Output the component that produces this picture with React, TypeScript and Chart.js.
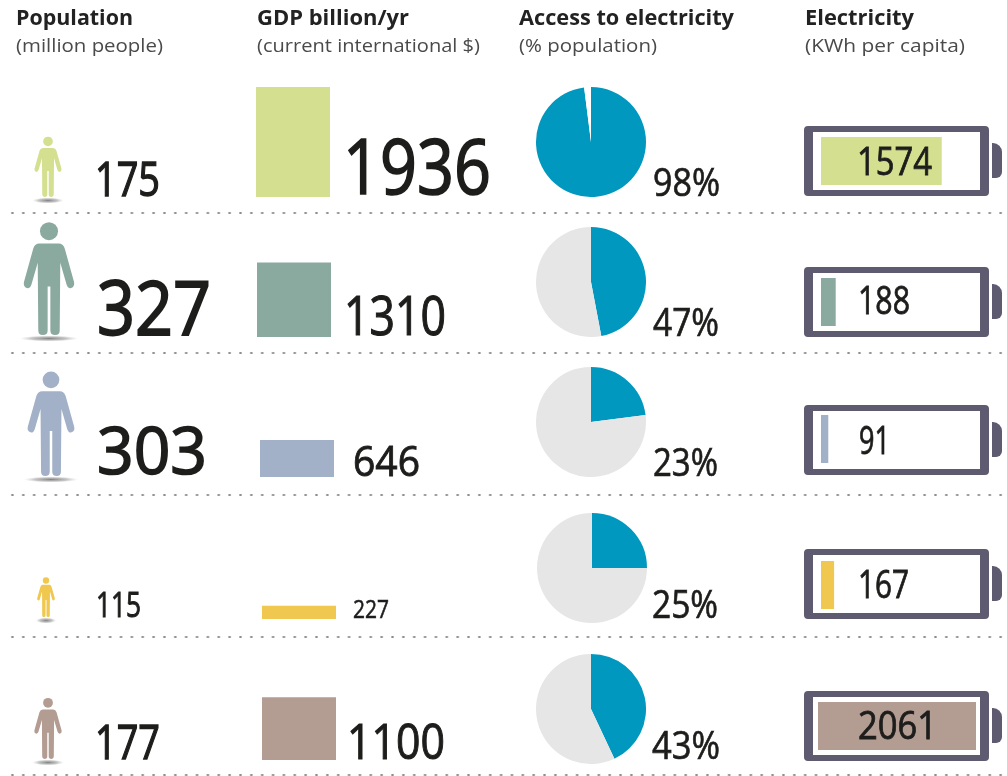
import React, { useEffect, useRef } from "react";
import { Chart, registerables } from "chart.js";

Chart.register(...registerables);

// ---- data ----
const population = [175, 327, 303, 115, 177];
const gdp = [1936, 1310, 646, 227, 1100];
const access = [98, 47, 23, 25, 43];
const electricity = [1574, 188, 91, 167, 2061];
const headers = [
  ["Population", "(million people)"],
  ["GDP billion/yr", "(current international $)"],
  ["Access to electricity", "(% population)"],
  ["Electricity", "(KWh per capita)"],
];

// ---- styles ----
const rowColors = ["#D4E08F", "#8BAA9F", "#A2B1C7", "#F0C850", "#B39C92"];
const pieBlue = "#0098BF";
const pieRest = ["#FFFFFF", "#E6E6E6", "#E6E6E6", "#E6E6E6", "#E6E6E6"];
const shellColor = "#5E5A70";
const inkColor = "#1D1D1B";

// ---- layout ----
const FONT = "'Open Sans', Lato, sans-serif";
const CAP = 0.714;
const separatorYs = [213, 353, 494.5, 636.5, 775];
const headerX = [16, 257, 519, 805];
const headerW = [117, 152, 215, 109];
const subW = [147, 223, 138, 160];
const personCx = [48, 48.7, 50.7, 46.3, 47.7];
const personFeet = [197, 335, 476, 617, 759];
const gdpLeft = [256, 257, 260, 262, 262];
const gdpBottom = [197, 337, 477, 619, 760];
const pieCx = [591, 590.5, 591, 592, 591];
const pieCy = [142, 282, 422, 568, 709];
const shellTop = [126, 267, 405, 549, 691];
const fillLeft = [821, 821, 821, 821, 818];
const fillTop = [137, 278, 415, 561, 702];
// x, baseline, width, digit height
const popText = [
  [95, 196, 65, 34],
  [97, 335, 114, 54],
  [97, 474, 110, 47],
  [96, 617, 45, 25],
  [95, 759, 65, 34],
];
const gdpText = [
  [343, 194, 148, 55],
  [344, 335, 102, 39],
  [353, 476, 67, 30],
  [353, 618, 36, 18],
  [347, 759, 98, 35],
];
const pctText = [
  [653, 196, 67, 27],
  [653, 336, 66, 27],
  [653, 476, 65, 27],
  [652, 618, 66, 27],
  [652, 759, 68, 27],
];
const kwhText = [
  [857, 175, 75, 27],
  [858, 314, 52, 27],
  [859, 454, 31, 27],
  [858, 598, 51, 27],
  [858, 739, 79, 27],
];

const PERSON_PLOT_H = 120;
const PERSON_PAD = 8;
const PERSON_PX_PER_UNIT = 0.345;
const GDP_H = 120;
const GDP_PX_PER_UNIT = 0.0567;
const FILL_W = 165;
const FILL_H = 48;
const KWH_PX_PER_UNIT = 0.0765;

const personPlugin = {
  id: "personGlyph",
  afterDatasetsDraw(chart: any) {
    const el = chart.getDatasetMeta(0).data[0];
    const { x, y, base } = el.getProps(["x", "y", "base"], true);
    const H = base - y;
    const ctx = chart.ctx;
    const color = chart.data.datasets[0].personColor;
    ctx.save();
    // ground shadow
    ctx.save();
    const rx = Math.max(H * 0.26, 10);
    ctx.translate(x, base + 3.5);
    ctx.scale(1, 3 / rx);
    const g = ctx.createRadialGradient(0, 0, 0, 0, 0, rx);
    g.addColorStop(0, "rgba(110,110,110,0.85)");
    g.addColorStop(0.6, "rgba(140,140,140,0.5)");
    g.addColorStop(1, "rgba(190,190,190,0)");
    ctx.fillStyle = g;
    ctx.beginPath();
    ctx.arc(0, 0, rx, 0, Math.PI * 2);
    ctx.fill();
    ctx.restore();

    ctx.translate(x, y);
    ctx.scale(H, H);
    ctx.fillStyle = color;
    // head
    ctx.beginPath();
    ctx.arc(0, 0.08, 0.08, 0, Math.PI * 2);
    ctx.fill();
    // body, one half at a time
    for (const s of [-1, 1]) {
      ctx.beginPath();
      ctx.moveTo(0, 0.19);
      ctx.lineTo(s * 0.085, 0.19);
      ctx.quadraticCurveTo(s * 0.125, 0.19, s * 0.14, 0.235);
      ctx.lineTo(s * 0.222, 0.53);
      ctx.quadraticCurveTo(s * 0.232, 0.575, s * 0.19, 0.585);
      ctx.quadraticCurveTo(s * 0.165, 0.585, s * 0.155, 0.55);
      ctx.lineTo(s * 0.1, 0.36);
      ctx.lineTo(s * 0.095, 0.96);
      ctx.quadraticCurveTo(s * 0.095, 1, s * 0.055, 1);
      ctx.quadraticCurveTo(s * 0.012, 1, s * 0.012, 0.96);
      ctx.lineTo(s * 0.012, 0.57);
      ctx.lineTo(0, 0.57);
      ctx.closePath();
      ctx.fill();
    }
    ctx.restore();
  },
};

const flatOptions = (extra: any = {}) => ({
  responsive: false,
  animation: false as const,
  events: [],
  layout: { padding: 0 },
  plugins: { legend: { display: false }, tooltip: { enabled: false } },
  ...extra,
});

function ChartCanvas({ config, left, top, width, height }: any) {
  const ref = useRef<HTMLCanvasElement>(null);
  useEffect(() => {
    const chart = new Chart(ref.current as HTMLCanvasElement, config());
    return () => chart.destroy();
  }, []);
  return (
    <canvas
      ref={ref}
      width={width}
      height={height}
      style={{ position: "absolute", left, top, width, height, display: "block" }}
    />
  );
}

function barConfig(value: number, color: string, max: number, horizontal: boolean, label: string) {
  const valueAxis = { display: false, min: 0, max };
  const catAxis = { display: false };
  return {
    type: "bar" as const,
    data: {
      labels: [label],
      datasets: [{ data: [value], backgroundColor: color, barPercentage: 1, categoryPercentage: 1, borderWidth: 0 }],
    },
    options: flatOptions({
      indexAxis: horizontal ? "y" : "x",
      scales: horizontal ? { x: valueAxis, y: catAxis } : { x: catAxis, y: valueAxis },
    }),
  };
}

function personConfig(value: number, color: string) {
  return {
    type: "bar" as const,
    data: {
      labels: ["Population"],
      datasets: [
        {
          data: [value],
          backgroundColor: "rgba(0,0,0,0)",
          barPercentage: 1,
          categoryPercentage: 1,
          personColor: color,
        },
      ],
    },
    options: flatOptions({
      layout: { padding: { bottom: PERSON_PAD } },
      scales: {
        x: { display: false },
        y: { display: false, min: 0, max: PERSON_PLOT_H / PERSON_PX_PER_UNIT },
      },
    }),
    plugins: [personPlugin],
  };
}

function pieConfig(value: number, rest: string) {
  return {
    type: "pie" as const,
    data: {
      labels: ["With access", "Without access"],
      datasets: [{ data: [value, 100 - value], backgroundColor: [pieBlue, rest], borderWidth: 0 }],
    },
    options: flatOptions(),
  };
}

function Label({ spec, text, weight = 400, stroke = 0.02 }: any) {
  const [x, y, w, h] = spec;
  return (
    <text
      x={x}
      y={y}
      fontFamily={FONT}
      fontWeight={weight}
      fontSize={h / CAP}
      fill={inkColor}
      stroke={inkColor}
      strokeWidth={h * stroke}
      textLength={w}
      lengthAdjust="spacingAndGlyphs"
    >
      {text}
    </text>
  );
}

export default function App() {
  return (
    <div style={{ position: "absolute", left: 0, top: 0, width: 1007, height: 776, overflow: "hidden", background: "#fff" }}>
      {separatorYs.map((y, i) => (
        <div
          key={i}
          style={{
            position: "absolute",
            left: 7.3,
            top: y - 2,
            width: 1000,
            height: 4,
            backgroundImage: "radial-gradient(circle, #8c8c8c 0.9px, rgba(140,140,140,0) 1.5px)",
            backgroundSize: "10.87px 4px",
          }}
        />
      ))}

      {shellTop.map((t, i) => (
        <React.Fragment key={i}>
          <div
            style={{
              position: "absolute",
              left: 804,
              top: t,
              width: 185,
              height: 70,
              boxSizing: "border-box",
              borderStyle: "solid",
              borderColor: shellColor,
              borderWidth: "6.5px 9.5px",
              borderRadius: 4,
              background: "#fff",
            }}
          />
          <div
            style={{
              position: "absolute",
              left: 992,
              top: t + 17,
              width: 10,
              height: 35,
              background: shellColor,
              borderRadius: "0 9px 6px 0",
            }}
          />
        </React.Fragment>
      ))}

      {population.map((v, i) => (
        <ChartCanvas
          key={i}
          config={() => personConfig(v, rowColors[i])}
          left={personCx[i] - 35}
          top={personFeet[i] - PERSON_PLOT_H}
          width={70}
          height={PERSON_PLOT_H + PERSON_PAD}
        />
      ))}

      {gdp.map((v, i) => (
        <ChartCanvas
          key={i}
          config={() => barConfig(v, rowColors[i], GDP_H / GDP_PX_PER_UNIT, false, "GDP")}
          left={gdpLeft[i]}
          top={gdpBottom[i] - GDP_H}
          width={74}
          height={GDP_H}
        />
      ))}

      {access.map((v, i) => (
        <ChartCanvas
          key={i}
          config={() => pieConfig(v, pieRest[i])}
          left={pieCx[i] - 55}
          top={pieCy[i] - 55}
          width={110}
          height={110}
        />
      ))}

      {electricity.map((v, i) => (
        <ChartCanvas
          key={i}
          config={() => barConfig(v, rowColors[i], FILL_W / KWH_PX_PER_UNIT, true, "Electricity")}
          left={fillLeft[i]}
          top={fillTop[i]}
          width={FILL_W}
          height={FILL_H}
        />
      ))}

      <svg width={1007} height={776} style={{ position: "absolute", left: 0, top: 0 }}>
        {headers.map(([a, b], i) => (
          <React.Fragment key={i}>
            <text
              x={headerX[i]}
              y={25}
              fontFamily={FONT}
              fontWeight={700}
              fontSize={20.5}
              fill="#222"
              textLength={headerW[i]}
              lengthAdjust="spacingAndGlyphs"
            >
              {a}
            </text>
            <text
              x={headerX[i]}
              y={52}
              fontFamily={FONT}
              fontWeight={400}
              fontSize={18.5}
              fill="#4a4a4a"
              textLength={subW[i]}
              lengthAdjust="spacingAndGlyphs"
            >
              {b}
            </text>
          </React.Fragment>
        ))}
        {population.map((v, i) => (
          <Label key={i} spec={popText[i]} text={String(v)} stroke={i === 1 || i === 2 ? 0.035 : 0.04} />
        ))}
        {gdp.map((v, i) => (
          <Label key={i} spec={gdpText[i]} text={String(v)} stroke={0.03} />
        ))}
        {access.map((v, i) => (
          <Label key={i} spec={pctText[i]} text={`${v}%`} stroke={0.025} />
        ))}
        {electricity.map((v, i) => (
          <Label key={i} spec={kwhText[i]} text={String(v)} stroke={0.03} />
        ))}
      </svg>
    </div>
  );
}
